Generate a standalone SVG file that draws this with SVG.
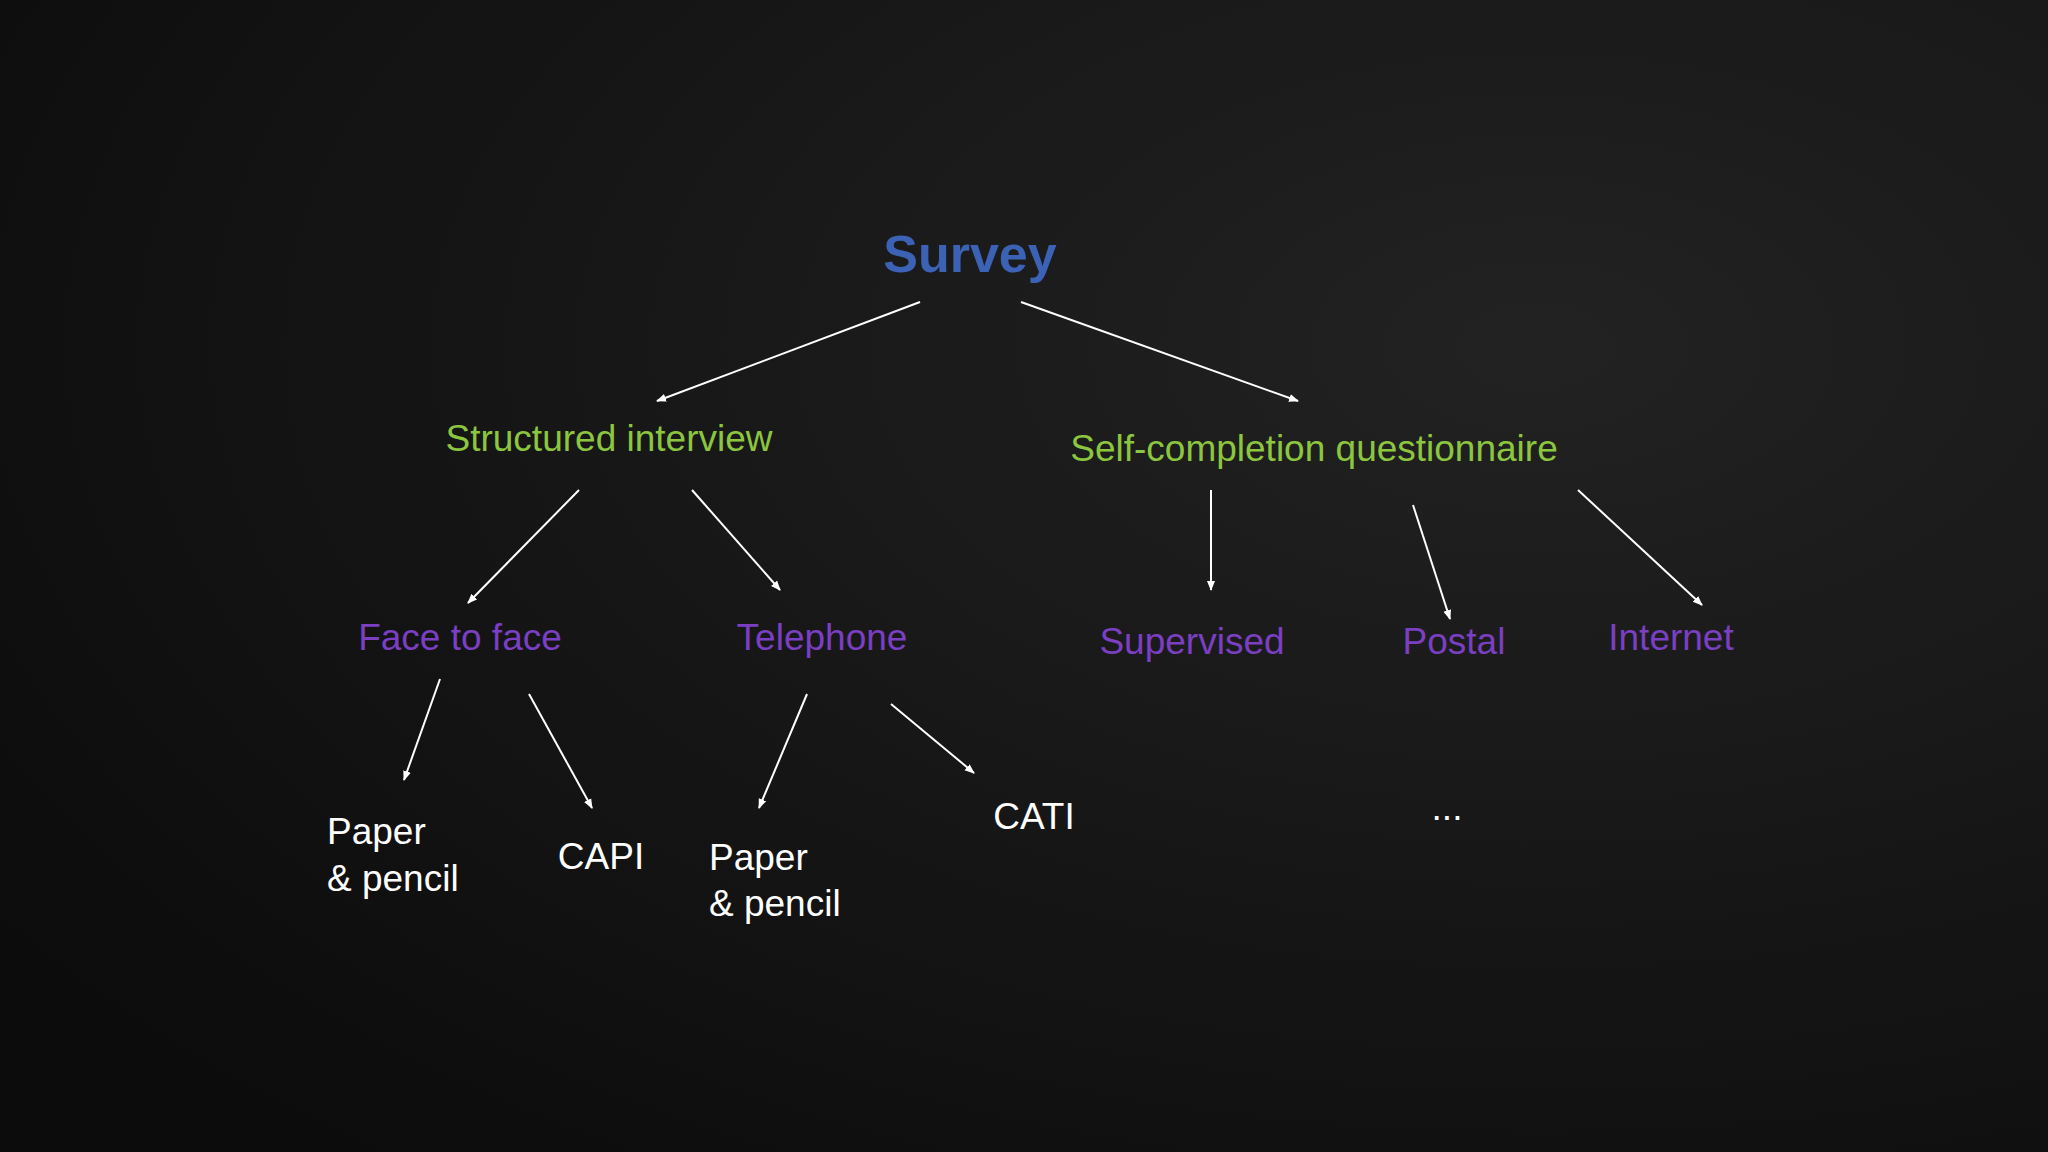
<svg xmlns="http://www.w3.org/2000/svg" width="2048" height="1152" viewBox="0 0 2048 1152">
<defs>
<radialGradient id="bg" cx="0.75" cy="0.3" r="0.9">
<stop offset="0" stop-color="#222222"/>
<stop offset="1" stop-color="#0c0c0c"/>
</radialGradient>
<marker id="ah" markerWidth="10" markerHeight="10" refX="9" refY="5" orient="auto" markerUnits="userSpaceOnUse" viewBox="0 0 10 10">
<path d="M0,1 L10,5 L0,9 z" fill="#ffffff"/>
</marker>
<style>
text{font-family:"Liberation Sans",Arial,sans-serif;text-anchor:middle}
.t{font-size:52px;font-weight:bold;fill:#3b62b5}
.g{font-size:37px;fill:#8cc63f}
.p{font-size:37px;fill:#7a3fc2}
.w{font-size:37px;fill:#ffffff}
.l{text-anchor:start}
#connectors line{stroke:#ffffff;stroke-width:2;marker-end:url(#ah)}
</style>
</defs>
<rect width="2048" height="1152" fill="url(#bg)"/>
<g id="connectors">
<line x1="920" y1="302" x2="657" y2="401"/>
<line x1="1021" y1="302" x2="1298" y2="401"/>
<line x1="579" y1="490" x2="468" y2="603"/>
<line x1="692" y1="490" x2="780" y2="590"/>
<line x1="1211" y1="490" x2="1211" y2="590"/>
<line x1="1413" y1="505" x2="1450" y2="619"/>
<line x1="1578" y1="490" x2="1702" y2="605"/>
<line x1="440" y1="679" x2="404" y2="780"/>
<line x1="529" y1="694" x2="592" y2="808"/>
<line x1="807" y1="694" x2="759" y2="808"/>
<line x1="891" y1="704" x2="974" y2="773"/>
</g>
<g id="survey"><text class="t" x="970" y="272">Survey</text></g>
<g id="structured"><text class="g" x="609" y="451">Structured interview</text></g>
<g id="selfcompletion"><text class="g" x="1314" y="461">Self-completion questionnaire</text></g>
<g id="face"><text class="p" x="460" y="650">Face to face</text></g>
<g id="telephone"><text class="p" x="822" y="650">Telephone</text></g>
<g id="supervised"><text class="p" x="1192" y="654">Supervised</text></g>
<g id="postal"><text class="p" x="1454" y="654">Postal</text></g>
<g id="internet"><text class="p" x="1671" y="650">Internet</text></g>
<g id="paper1"><text class="w l" x="327" y="844">Paper</text><text class="w l" x="327" y="891">&amp; pencil</text></g>
<g id="capi"><text class="w" x="601" y="869">CAPI</text></g>
<g id="paper2"><text class="w l" x="709" y="870">Paper</text><text class="w l" x="709" y="916">&amp; pencil</text></g>
<g id="cati"><text class="w" x="1034" y="829">CATI</text></g>
<g id="more"><text class="w" x="1447" y="820">...</text></g>
</svg>
